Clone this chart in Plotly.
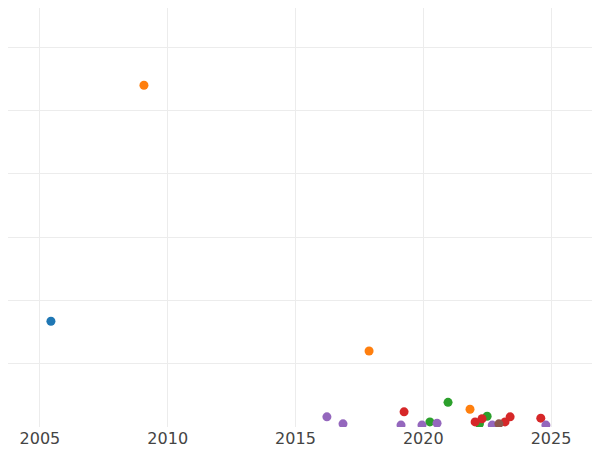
import plotly.graph_objects as go

colors = ["#1f77b4", "#ff7f0e", "#2ca02c", "#d62728", "#9467bd", "#8c564b"]
blue_x = [2005.43]; blue_y = [1.67]
orange_x = [2009.07, 2017.88, 2021.83]; orange_y = [5.40, 1.20, 0.28]
green_x = [2020.26, 2020.97, 2022.2, 2022.5]; green_y = [0.08, 0.39, 0.05, 0.17]
red_x = [2019.25, 2022.03, 2022.3, 2023.2, 2023.4, 2024.6]; red_y = [0.24, 0.08, 0.13, 0.08, 0.16, 0.14]
purple_x = [2016.23, 2016.86, 2019.13, 2019.95, 2020.54, 2022.7, 2024.8]
purple_y = [0.16, 0.05, 0.03, 0.03, 0.06, 0.03, 0.03]
brown_x = [2022.96]; brown_y = [0.05]

fig = go.Figure()
for xs, ys, c in [(blue_x, blue_y, colors[0]), (orange_x, orange_y, colors[1]),
                  (green_x, green_y, colors[2]), (red_x, red_y, colors[3]),
                  (purple_x, purple_y, colors[4]), (brown_x, brown_y, colors[5])]:
    fig.add_trace(go.Scatter(x=xs, y=ys, mode="markers", marker=dict(color=c, size=9),
                             showlegend=False, cliponaxis=True))

fig.update_layout(width=600, height=450, margin=dict(l=0, r=0, t=0, b=31),
                  plot_bgcolor="white", paper_bgcolor="white",
                  font=dict(family="DejaVu Sans", size=16, color="#444"))
fig.update_xaxes(range=[2003.75, 2027.23], tickvals=[2005, 2010, 2015, 2020, 2025],
                 showgrid=True, gridcolor="#ececec", zeroline=False, showline=False, ticks="")
fig.update_yaxes(range=[0, 6.62], dtick=1, showticklabels=False, showgrid=True,
                 gridcolor="#ececec", zeroline=False, showline=False)
fig.write_html("out.html")
